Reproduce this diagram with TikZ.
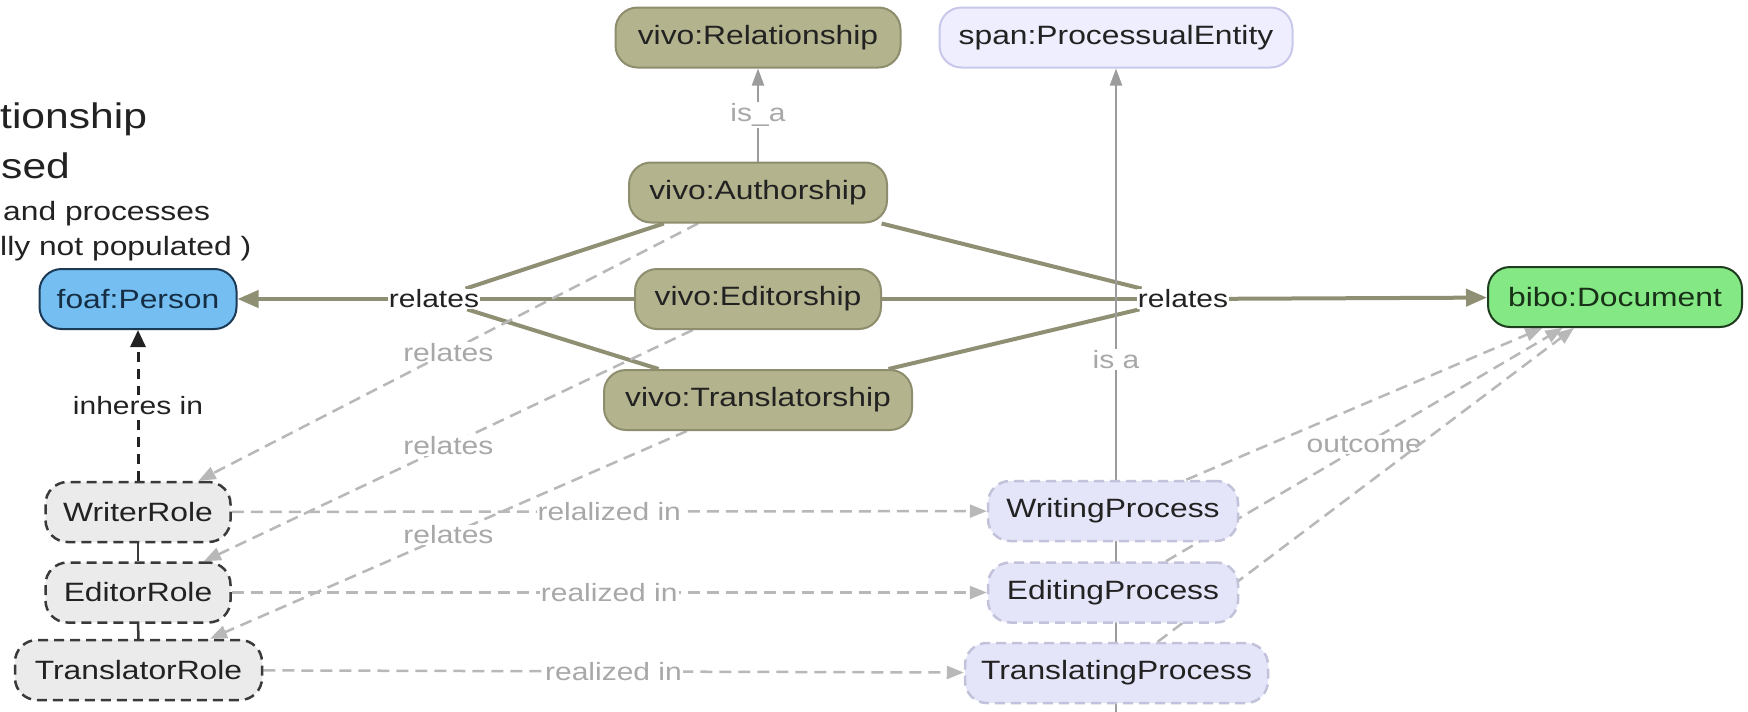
\documentclass[tikz,border=0pt]{standalone}
\usepackage{fontspec}
\setmainfont[FakeStretch=1.2]{Liberation Sans}
\usetikzlibrary{arrows.meta}

\pgfdeclarelayer{bgfill}
\pgfdeclarelayer{edges}
\pgfsetlayers{bgfill,edges,main}

\definecolor{olivefill}{HTML}{B3B38D}
\definecolor{oliveedge}{HTML}{8E8E6E}
\definecolor{oliveline}{HTML}{8F8F73}
\definecolor{personfill}{HTML}{74BEF2}
\definecolor{personedge}{HTML}{1C3A55}
\definecolor{docfill}{HTML}{84E884}
\definecolor{docedge}{HTML}{1E3D1E}
\definecolor{spanfill}{HTML}{EEEEFE}
\definecolor{spanedge}{HTML}{C8C8EC}
\definecolor{procfill}{HTML}{E5E5FA}
\definecolor{procedge}{HTML}{C2C2DA}
\definecolor{rolefill}{HTML}{EBEBEB}
\definecolor{roleedge}{HTML}{3A3A3A}
\definecolor{softgray}{HTML}{B8B8B8}
\definecolor{labelgray}{HTML}{A8A8A8}
\definecolor{inkgray}{HTML}{222222}

\newcommand\ndfont{\fontsize{26.5}{30}\selectfont}
\newcommand\lblfont{\fontsize{25}{28}\selectfont}
\newcommand\ttlfont{\fontsize{35.5}{40}\selectfont}

\tikzset{
  box/.style={rounded corners=22pt, minimum height=60pt, inner sep=0pt,
              font=\ndfont, text=inkgray, line width=2pt},
  olivebox/.style={box, fill=olivefill, draw=oliveedge},
  spanbox/.style={box, fill=spanfill, draw=spanedge},
  personbox/.style={box, fill=personfill, draw=personedge, text=personedge!80!black},
  docbox/.style={box, fill=docfill, draw=docedge, text=docedge!80!black},
  rolebox/.style={box, fill=rolefill, draw=roleedge, line width=2.5pt,
                  dash pattern=on 10pt off 6pt},
  procbox/.style={box, fill=procfill, draw=procedge, line width=2.5pt,
                  dash pattern=on 10pt off 6pt},
  lbl/.style={font=\lblfont, text=labelgray, fill=white, inner sep=1pt},
  blbl/.style={font=\lblfont, text=inkgray, fill=white, inner sep=1pt},
  relline/.style={draw=oliveline, line width=4pt},
  relarrow/.style={relline, -{Triangle[length=21pt,width=17pt]}},
  graydash/.style={draw=softgray, line width=2.5pt, dash pattern=on 12pt off 7pt,
                   -{Triangle[length=17pt,width=13pt]}},
  isaline/.style={draw=softgray!85!black, line width=2pt,
                  -{Triangle[length=17pt,width=12pt]}},
  inhere/.style={draw=inkgray, line width=3pt, dash pattern=on 10pt off 7pt,
                 -{Triangle[length=17pt,width=15pt]}},
  rolelink/.style={draw=roleedge, line width=2.5pt},
  ttl/.style={anchor=base west, inner sep=0pt, text=inkgray}
}

\begin{document}
\begin{tikzpicture}[x=1pt,y=-1pt]
\begin{pgfonlayer}{bgfill}
  \fill[white] (0,0) rectangle (1748,712);
\end{pgfonlayer}
\useasboundingbox (0,0) rectangle (1748,712);

% heading fragments at the left edge
\node[ttl, font=\ttlfont] (h1) at (0,128) {tionship};
\node[ttl, font=\ttlfont] (h2) at (1,178) {sed};
\node[ttl, font=\ndfont] (h3) at (3,220) {and processes};
\node[ttl, font=\ndfont] (h4) at (0,255) {lly not populated )};

% classes
\node[olivebox, minimum width=285pt] (rel) at (758,37.5) {vivo:Relationship};
\node[spanbox, minimum width=353pt] (span) at (1116,37.5) {span:ProcessualEntity};
\node[olivebox, minimum width=258pt] (auth) at (758,192.5) {vivo:Authorship};
\node[olivebox, minimum width=246pt] (edit) at (758,299) {vivo:Editorship};
\node[olivebox, minimum width=308pt] (trans) at (758,400) {vivo:Translatorship};
\node[personbox, minimum width=197pt] (person) at (138,299) {foaf:Person};
\node[docbox, minimum width=254pt] (doc) at (1615,297) {bibo:Document};

% roles
\node[rolebox, minimum width=185pt] (writer) at (138,512) {WriterRole};
\node[rolebox, minimum width=185pt] (editor) at (138,592.5) {EditorRole};
\node[rolebox, minimum width=247pt] (translator) at (138.5,670) {TranslatorRole};

% processes
\node[procbox, minimum width=250pt] (wproc) at (1113,511) {WritingProcess};
\node[procbox, minimum width=250pt] (eproc) at (1113,592.5) {EditingProcess};
\node[procbox, minimum width=303pt] (tproc) at (1116.5,673) {TranslatingProcess};

% relates junctions
\node[blbl] (relL) at (434,299) {relates};
\node[blbl] (relR) at (1183,299) {relates};

\coordinate (isabase) at (1116,712);

\begin{pgfonlayer}{edges}
  % relationship nodes to person and document
  \draw[relline] (auth) -- (relL);
  \draw[relline] (edit) -- (relL);
  \draw[relline] (trans) -- (relL);
  \draw[relarrow] (relL) -- (person);
  \draw[relline] (auth) -- (relR);
  \draw[relline] (edit) -- (relR);
  \draw[relline] (trans) -- (relR);
  \draw[relarrow] (relR) -- (doc);

  % subclass links
  \draw[isaline] (auth) -- node[lbl] {is\_a} (rel);
  \draw[isaline] (isabase) -- node[lbl, pos=0.548] {is a} (span);

  % relationships to roles
  \draw[graydash] (auth) -- node[lbl] {relates} (writer);
  \draw[graydash] (edit) -- node[lbl] {relates} (editor);
  \draw[graydash] (trans) -- node[lbl] {relates} (translator);

  % roles realized in processes
  \draw[graydash] (writer) -- node[lbl] {relalized in} (wproc);
  \draw[graydash] (editor) -- node[lbl] {realized in} (eproc);
  \draw[graydash] (translator) -- node[lbl] {realized in} (tproc);

  % process outcomes
  \draw[graydash] (wproc) -- (doc);
  \draw[graydash] (eproc) -- node[lbl] {outcome} (doc);
  \draw[graydash] (tproc) -- (doc);

  % role chain and bearer
  \draw[rolelink] (writer) -- (editor);
  \draw[rolelink] (editor) -- (translator);
  \draw[inhere] (writer) -- node[blbl] {inheres in} (person);
\end{pgfonlayer}
\end{tikzpicture}
\end{document}
